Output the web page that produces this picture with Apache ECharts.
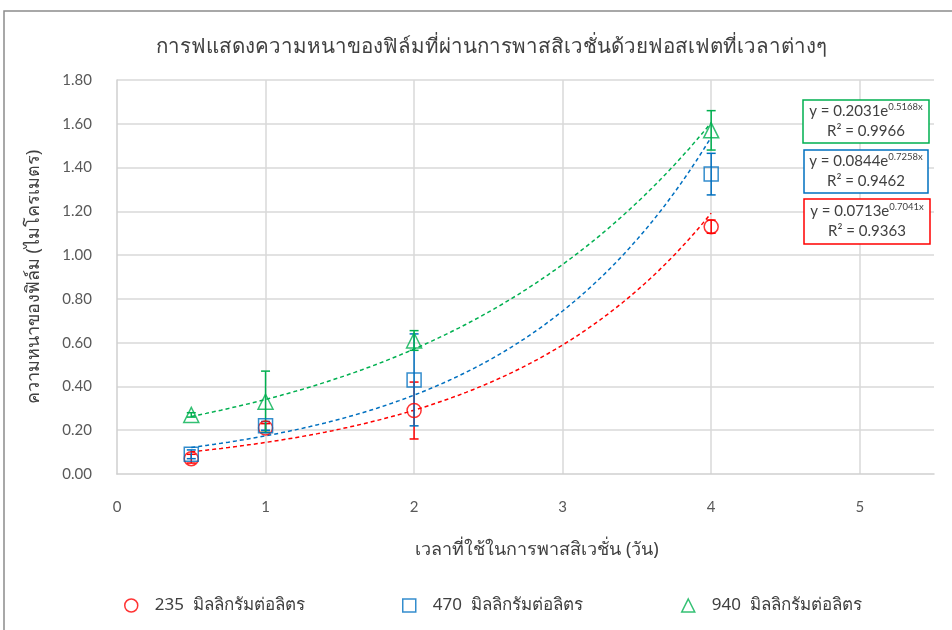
<!DOCTYPE html>
<html>
<head>
<meta charset="utf-8">
<script src="https://cdn.jsdelivr.net/npm/echarts@6/dist/echarts.min.js"></script>
<style>
  html, body { margin: 0; padding: 0; background: #fff; }
  #chart { width: 952px; height: 630px; }
</style>
</head>
<body>
<div id="chart"></div>
<script>
// Passivation time (days)
const days = [0.5, 1, 2, 4];

// Mean film thickness (micrometres) for each phosphate concentration
const thick235 = [0.07, 0.21, 0.29, 1.13];
const thick470 = [0.09, 0.22, 0.43, 1.37];
const thick940 = [0.27, 0.33, 0.61, 1.57];

// Half-length of the error bars
const err235 = [0.02, 0.02, 0.13, 0.03];
const err470 = [0.02, 0.02, 0.21, 0.095];
const err940 = [0.01, 0.14, 0.045, 0.09];

// Exponential trendlines y = a·e^(b·x)
const fitA = ['0.0713', '0.0844', '0.2031'];
const fitB = ['0.7041', '0.7258', '0.5168'];
const fitR2 = ['0.9363', '0.9462', '0.9966'];

const seriesNames = ['235  มิลลิกรัมต่อลิตร', '470  มิลลิกรัมต่อลิตร', '940  มิลลิกรัมต่อลิตร'];
const colors = ['#FF0000', '#0070C0', '#00B050'];
const symbols = ['circle', 'rect', 'triangle'];
const yTicks = ['0.00', '0.20', '0.40', '0.60', '0.80', '1.00', '1.20', '1.40', '1.60', '1.80'];

const numFont = 'Lato, "Open Sans", sans-serif';
const thaiFont = '"Noto Sans", "DejaVu Sans", sans-serif';

const values = [thick235, thick470, thick940];
const errors = [err235, err470, err940];

function trendPoints(k) {
  const a = parseFloat(fitA[k]), b = parseFloat(fitB[k]);
  const pts = [];
  for (let i = 0; i <= 70; i++) {
    const x = days[0] + (days[days.length - 1] - days[0]) * i / 70;
    pts.push([x, a * Math.exp(b * x)]);
  }
  return pts;
}

function errorSeries(k) {
  return {
    type: 'custom',
    z: 3,
    silent: true,
    data: days.map((d, i) => [d, values[k][i] - errors[k][i], values[k][i] + errors[k][i]]),
    renderItem: function (params, api) {
      const lo = api.coord([api.value(0), api.value(1)]);
      const hi = api.coord([api.value(0), api.value(2)]);
      const w = 4.5;
      const st = { stroke: colors[k], lineWidth: 1.5 };
      return {
        type: 'group',
        children: [
          { type: 'line', shape: { x1: lo[0], y1: lo[1], x2: hi[0], y2: hi[1] }, style: st },
          { type: 'line', shape: { x1: lo[0] - w, y1: lo[1], x2: lo[0] + w, y2: lo[1] }, style: st },
          { type: 'line', shape: { x1: hi[0] - w, y1: hi[1], x2: hi[0] + w, y2: hi[1] }, style: st }
        ]
      };
    }
  };
}

const series = [];
for (let k = 0; k < 3; k++) {
  series.push({
    type: 'line',
    data: trendPoints(k),
    showSymbol: false,
    silent: true,
    z: 2,
    lineStyle: { color: colors[k], width: 1.5, type: [4, 3] }
  });
  series.push(errorSeries(k));
  series.push({
    name: seriesNames[k],
    type: 'scatter',
    symbol: symbols[k],
    symbolSize: k === 2 ? 15 : 14,
    z: 4,
    data: days.map((d, i) => [d, values[k][i]]),
    itemStyle: { color: 'rgba(0,0,0,0)', borderColor: colors[k], borderWidth: 1.5 }
  });
}

// Equation boxes on the right side
const boxes = [
  { k: 2, x: 803, y: 100, w: 126, h: 43 },
  { k: 1, x: 804, y: 150, w: 124, h: 43 },
  { k: 0, x: 804, y: 199, w: 126, h: 45 }
];
const graphics = [
  {
    type: 'rect',
    shape: { x: 4, y: 11, width: 1000, height: 700 },
    style: { fill: 'none', stroke: '#8C8C8C', lineWidth: 1.5 },
    silent: true
  },
  {
    type: 'text',
    x: 537, y: 550,
    style: {
      text: 'เวลาที่ใช้ในการพาสสิเวชั่น (วัน)',
      font: '18px ' + thaiFont,
      fill: '#404040',
      align: 'center',
      verticalAlign: 'middle'
    }
  }
];
boxes.forEach(b => {
  graphics.push({
    type: 'rect',
    shape: { x: b.x, y: b.y, width: b.w, height: b.h },
    style: { fill: '#fff', stroke: colors[b.k], lineWidth: 1.5 },
    z: 10
  });
  graphics.push({
    type: 'text',
    x: b.x + b.w / 2, y: b.y + b.h / 2,
    z: 11,
    style: {
      text: '{m|y = ' + fitA[b.k] + 'e}{s|' + fitB[b.k] + 'x}\n{m|R² = ' + fitR2[b.k] + '}',
      align: 'center',
      verticalAlign: 'middle',
      rich: {
        m: { font: '15px ' + numFont, fill: '#404040', lineHeight: 20 },
        s: { font: '9.5px ' + numFont, fill: '#404040', lineHeight: 20, verticalAlign: 'top', padding: [0, 0, 9, 0] }
      }
    }
  });
});

const legendLefts = [119, 397, 676];
const legends = seriesNames.map((n, k) => ({
  left: legendLefts[k],
  top: 592,
  itemWidth: 13,
  itemHeight: 13,
  itemGap: 14,
  textStyle: { fontSize: 17, color: '#404040', fontFamily: thaiFont, padding: [0, 0, 0, 12] },
  data: [{ name: n, icon: symbols[k], itemStyle: { color: 'rgba(0,0,0,0)', borderColor: colors[k], borderWidth: 1.5 } }]
}));

const gridColor = '#D9D9D9';

const chart = echarts.init(document.getElementById('chart'), null, { renderer: 'canvas' });
chart.setOption({
  animation: false,
  backgroundColor: '#fff',
  title: {
    text: 'การฟแสดงความหนาของฟิล์มที่ผ่านการพาสสิเวชั่นด้วยฟอสเฟตที่เวลาต่างๆ',
    left: 486,
    top: 32,
    textAlign: 'center',
    textStyle: { fontSize: 20.5, fontWeight: 'normal', color: '#404040', fontFamily: thaiFont }
  },
  legend: legends,
  grid: {
    left: 117, top: 80, bottom: 156, right: 18,
    show: false, containLabel: false
  },
  xAxis: {
    type: 'value',
    min: 0, max: 5.5, interval: 1,
    axisLine: { show: true, lineStyle: { color: '#CFCFCF', width: 1.5 } },
    axisTick: { show: false },
    splitLine: { show: true, showMaxLine: false, showMinLine: false, lineStyle: { color: gridColor, width: 1.5 } },
    axisLabel: { margin: 26, fontSize: 15, color: '#595959', fontFamily: numFont, showMaxLabel: false }
  },
  yAxis: {
    type: 'value',
    min: 0, max: 1.8, interval: 0.2,
    name: 'ความหนาของฟิล์ม (ไมโครเมตร)',
    nameLocation: 'middle',
    nameGap: 74,
    nameTextStyle: { fontSize: 18, color: '#404040', fontFamily: thaiFont },
    axisLine: { show: true, lineStyle: { color: '#CFCFCF', width: 1.5 } },
    axisTick: { show: false },
    splitLine: { show: true, showMinLine: false, lineStyle: { color: gridColor, width: 1.5 } },
    axisLabel: {
      margin: 25, fontSize: 15, color: '#595959', fontFamily: numFont,
      formatter: v => yTicks[Math.round(v / 0.2)]
    }
  },
  graphic: graphics,
  series: series
});
</script>
</body>
</html>
